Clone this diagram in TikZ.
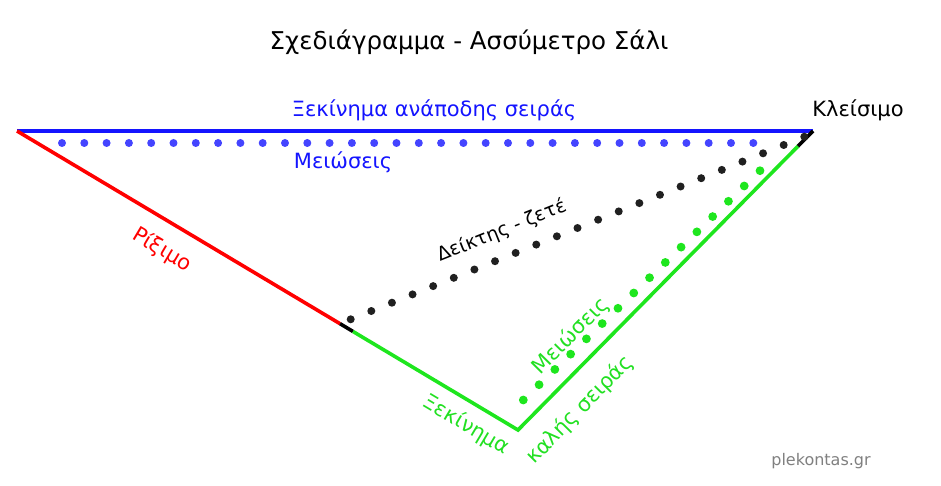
\documentclass[tikz,border=0pt]{standalone}
\usepackage{fontspec}
\setmainfont{DejaVu Sans}
\usetikzlibrary{calc}
\definecolor{lblue}{HTML}{1414FF}
\definecolor{dblue}{HTML}{4444FF}
\definecolor{lred}{HTML}{FF0000}
\definecolor{lgreen}{HTML}{1EE61E}
\definecolor{tgreen}{HTML}{22E022}
\definecolor{dblack}{HTML}{202020}
\definecolor{wgray}{HTML}{808080}
\begin{document}
\begin{tikzpicture}[x=1pt,y=-1pt,
  edge/.style={line width=3.6pt},
  dotb/.style={fill=dblue},
  dotk/.style={fill=dblack},
  dotg/.style={fill=lgreen},
  lbl/.style={inner sep=0pt,font=\fontsize{21}{24}\selectfont}]
\useasboundingbox (0,0) rectangle (941,486);
% corners
\coordinate (A) at (17,131);
\coordinate (B) at (813,131);
\coordinate (C) at (518,430);
\coordinate (D) at (340,323.7);
\coordinate (E) at (353,331.5);
\coordinate (F) at (798,146.2);
% lines
\draw[edge,lblue] (A) -- (B);
\draw[edge,lred] (A) -- (D);
\draw[edge,black] (D) -- (E);
\draw[edge,lgreen,line join=miter] (E) -- (C) -- (F);
\draw[edge,black] (F) -- (B);
% dot rows
\coordinate (b1) at (62,143);
\coordinate (b2) at (753.3,143);
\foreach \i in {0,...,31}
  \fill[dotb] ($(b1)!\i/31!(b2)$) circle[radius=4pt];
\coordinate (k1) at (350.7,319.3);
\coordinate (k2) at (804.3,136.7);
\foreach \i in {0,...,22}
  \fill[dotk] ($(k1)!\i/22!(k2)$) circle[radius=4pt];
\coordinate (g1) at (523.3,400);
\coordinate (g2) at (760,170.7);
\foreach \i in {0,...,15}
  \fill[dotg] ($(g1)!\i/15!(g2)$) circle[radius=4.4pt];
% texts
\node[inner sep=0pt,font=\fontsize{24.5}{28}\selectfont] (title) at (469,42) {Σχεδιάγραμμα - Ασσύμετρο Σάλι};
\node[lbl,text=lblue] (top) at (434,110) {Ξεκίνημα ανάποδης σειράς};
\node[lbl,text=lblue] (mb) at (343,162) {Μειώσεις};
\node[lbl] (close) at (858,110) {Κλείσιμο};
\node[lbl,text=lred,rotate=-30.8] (rix) at (162,250) {Ρίξιμο};
\node[lbl,rotate=21.9,font=\fontsize{19}{22}\selectfont] (deik) at (502,231) {Δείκτης - ζετέ};
\node[lbl,text=tgreen,rotate=45.4] (mg) at (571,336) {Μειώσεις};
\node[lbl,text=tgreen,rotate=-30.8] (xek) at (466,425) {Ξεκίνημα};
\node[lbl,text=tgreen,rotate=45.4] (kal) at (580,410) {καλής σειράς};
\node[inner sep=0pt,text=wgray,font=\fontsize{16}{18}\selectfont] (web) at (821,461) {plekontas.gr};
\end{tikzpicture}
\end{document}
